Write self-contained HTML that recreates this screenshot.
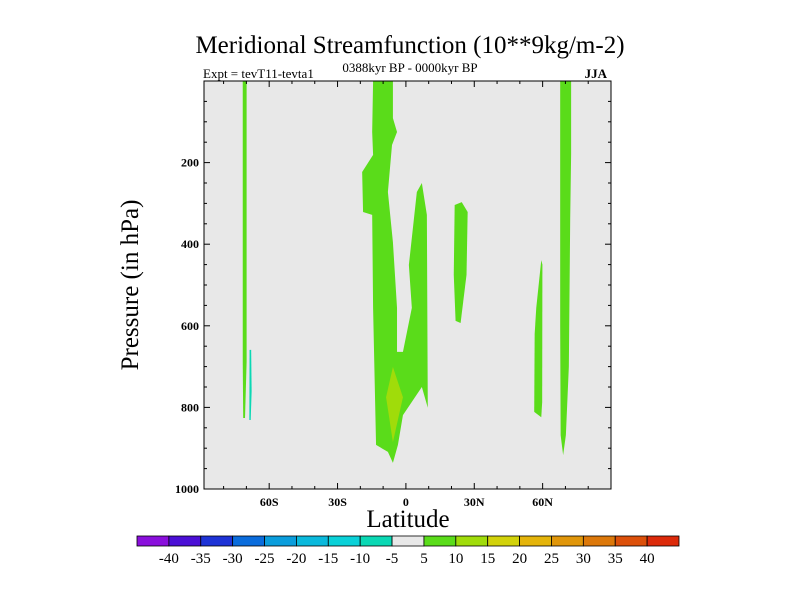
<!DOCTYPE html>
<html><head><meta charset="utf-8"><style>
body{margin:0;background:#fff;}
svg text{font-family:"Liberation Serif",serif;fill:#000;}
</style></head><body>
<svg id="c" width="800" height="600">
<text x="410" y="53" text-anchor="middle" font-size="25">Meridional Streamfunction (10**9kg/m-2)</text>
<text x="203" y="78" font-size="13">Expt = tevT11-tevta1</text>
<text x="410" y="72" text-anchor="middle" font-size="13">0388kyr BP - 0000kyr BP</text>
<text x="607" y="78" text-anchor="end" font-size="13" font-weight="bold">JJA</text>
<text x="408" y="527" text-anchor="middle" font-size="25">Latitude</text>
<text transform="translate(138,285) rotate(-90)" text-anchor="middle" font-size="25">Pressure (in hPa)</text>
<g id="plot"></g>
<g id="cbar"></g>
</svg>
<script>
const latMin=-88.6, latMax=90, pMin=0, pMax=1000;
const X0=204,X1=611,Y0=81,Y1=489;
const xTicks=[-60,-30,0,30,60];
const xTickLabels=["60S","30S","0","30N","60N"];
const yTicks=[200,400,600,800,1000];
const yTickLabels=["200","400","600","800","1000"];
const levels=[-40,-35,-30,-25,-20,-15,-10,-5,5,10,15,20,25,30,35,40];
const levelColors=["#8a0fdc","#4b0fd6","#1e33d6","#0a6cdc","#0a9ddc","#0ab9dc","#0ad1d8","#0ad8b4","#e8e8e8","#5adc1a","#a0dc0a","#d2d20a","#e4b40a","#e0960a","#dc780a","#dc500a","#dc2a0a"];
const main=[[-14.4,0],[-5.7,0],[-5.7,91],[-3.9,125],[-6.1,157],[-7.9,272],[-5.7,395],[-3.9,556],[-3.9,664],[-1.3,664],[2.6,556],[1.3,451],[4.8,272],[7.0,250],[9.2,328],[9.6,801],[7.0,750],[-1.3,819],[-3.5,892],[-5.7,936],[-7.9,909],[-13.1,892],[-14.4,556],[-14.8,328],[-18.8,321],[-19.2,223],[-14.4,181],[-14.8,125]];
const core=[[-5.7,701],[-1.3,775],[-5.7,885],[-8.7,775]];
const blob25n=[[21.4,304],[24.5,297],[27.1,321],[26.6,475],[24.0,593],[21.8,588],[21.0,475]];
const band70s=[[-71.6,0],[-69.9,0],[-69.9,689],[-70.6,826],[-71.4,826],[-71.6,689]];
const sliver70s=[[-68.6,659],[-67.9,659],[-67.7,760],[-68.1,831],[-68.7,831]];
const blob60n=[[59.4,439],[59.9,450],[59.8,787],[59.4,824],[56.3,811],[56.5,620],[57.2,556]];
const band70n=[[67.7,0],[72.5,0],[72.5,180],[72.1,336],[71.5,700],[70.2,868],[69.0,917],[67.9,868],[67.7,600],[67.7,336]];
const xs=l=>X0+(l-latMin)/(latMax-latMin)*(X1-X0);
const ys=p=>Y0+(p-pMin)/(pMax-pMin)*(Y1-Y0);
const NS="http://www.w3.org/2000/svg";
const plot=document.getElementById('plot');
function mk(tag,attrs,parent){const e=document.createElementNS(NS,tag);for(const k in attrs)e.setAttribute(k,attrs[k]);parent.appendChild(e);return e;}
let bg=mk('rect',{x:X0,y:Y0,width:X1-X0,height:Y1-Y0,fill:'#e8e8e8'},plot);


const shapes=[[main,'#5adc1a','main-positive-cell'],[core,'#a0dc0a','core-maximum'],[blob25n,'#5adc1a','cell-25n'],[band70s,'#5adc1a','band-70s'],[sliver70s,'#0ad8b4','negative-sliver-70s'],[blob60n,'#5adc1a','cell-60n'],[band70n,'#5adc1a','band-70n']];
shapes.forEach(s=>{
 const e=mk('polygon',{points:s[0].map(q=>xs(q[0])+','+ys(q[1])).join(' '),fill:s[1]},plot);
 
 
});
let fr=mk('rect',{x:X0,y:Y0,width:X1-X0,height:Y1-Y0,fill:'none',stroke:'#000','stroke-width':1},plot);


for(let l=-80;l<=90;l+=10){
 const major=l%30===0, len=major?6:3;
 mk('line',{x1:xs(l),x2:xs(l),y1:Y1,y2:Y1-len,stroke:'#000'},plot);
 mk('line',{x1:xs(l),x2:xs(l),y1:Y0,y2:Y0+len,stroke:'#000'},plot);
}
xTicks.forEach((t,i)=>{const e=mk('text',{x:xs(t),y:Y1+17,'text-anchor':'middle','font-size':12,'font-weight':'bold'},plot);e.textContent=xTickLabels[i];
 
 });
for(let p=50;p<=1000;p+=50){
 const major=p%200===0, len=major?6:3;
 mk('line',{x1:X0,x2:X0+len,y1:ys(p),y2:ys(p),stroke:'#000'},plot);
 mk('line',{x1:X1,x2:X1-len,y1:ys(p),y2:ys(p),stroke:'#000'},plot);
}
yTicks.forEach((t,i)=>{const e=mk('text',{x:X0-5,y:ys(t)+4,'text-anchor':'end','font-size':12,'font-weight':'bold'},plot);e.textContent=yTickLabels[i];
 
 });
const cb=document.getElementById('cbar');
const CB0=137,CB1=679,bw=(CB1-CB0)/levelColors.length;
levelColors.forEach((c,i)=>{const e=mk('rect',{x:CB0+i*bw,y:536,width:bw,height:10,fill:c,stroke:'#000','stroke-width':0.8},cb);
 
 });
levels.forEach((v,i)=>{const e=mk('text',{x:CB0+(i+1)*bw,y:563,'text-anchor':'middle','font-size':15},cb);e.textContent=v;
 
 });
</script>
</body></html>
